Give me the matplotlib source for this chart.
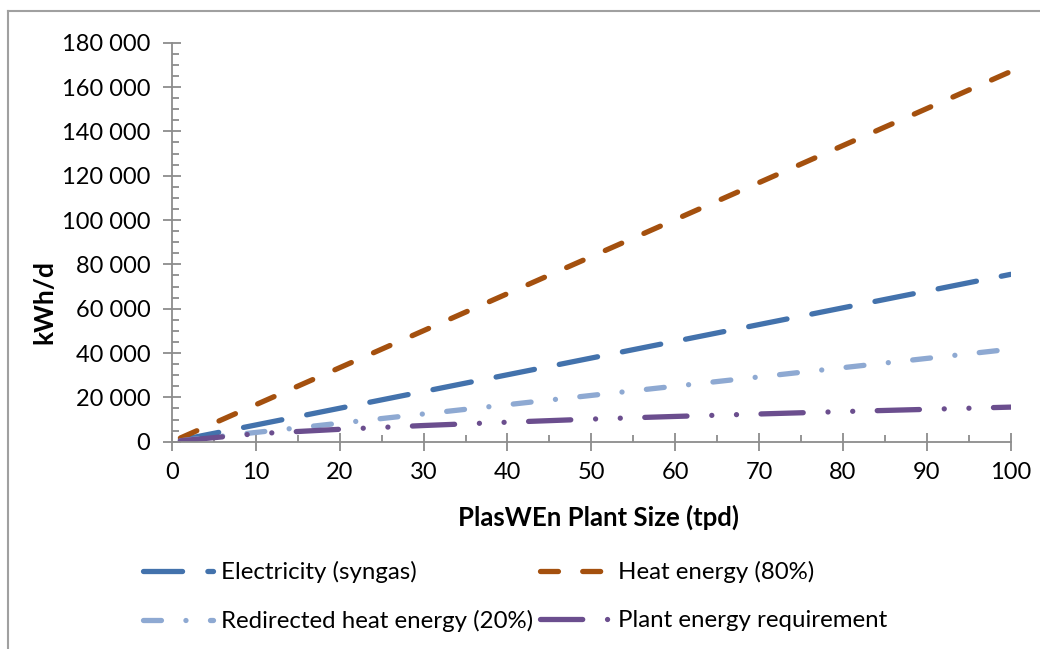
import matplotlib
matplotlib.use("Agg")
import matplotlib.pyplot as plt
from matplotlib.ticker import MultipleLocator, FuncFormatter
from matplotlib.lines import Line2D

plt.rcParams['font.family'] = ['Lato', 'DejaVu Sans']

plant_size = [1, 10, 20, 30, 40, 50, 60, 70, 80, 90, 100]
electricity = [755, 7550, 15100, 22650, 30200, 37750, 45300, 52850, 60400, 67950, 75500]
heat = [1670, 16700, 33400, 50100, 66800, 83500, 100200, 116900, 133600, 150300, 167000]
redirected = [418, 4180, 8350, 12530, 16700, 20880, 25050, 29230, 33400, 37580, 41750]
plant_req = [400, 3600, 5600, 7300, 8800, 10200, 11400, 12500, 13600, 14600, 15600]

labels = ["Electricity (syngas)", "Heat energy (80%)",
          "Redirected heat energy (20%)", "Plant energy requirement"]
colors = ["#4372AC", "#A4500E", "#8EA9D2", "#6B4E8E"]
styles = [(0, (7.4, 4.8)),
          (0, (3.4, 4.6)),
          (0, (3.4, 4.64, 0.01, 4.64)),
          (0, (8.0, 4.7, 0.01, 4.67, 0.01, 4.64))]

W, H = 1040, 649
fig = plt.figure(figsize=(W / 100, H / 100), dpi=100)
ax = fig.add_axes([172 / W, 1 - 441.7 / H, (1010.7 - 172) / W, (441.7 - 42.7) / H])

series = [electricity, heat, redirected, plant_req]
handles = []
for vals, lab, c, ls in zip(series, labels, colors, styles):
    ln, = ax.plot(plant_size, vals, color=c, lw=3.8, linestyle=ls,
                  dash_capstyle='round', solid_capstyle='round', label=lab)
    handles.append(ln)

ax.set_xlim(0, 100)
ax.set_ylim(0, 180000)
ax.xaxis.set_major_locator(MultipleLocator(10))
ax.xaxis.set_minor_locator(MultipleLocator(5))
ax.yaxis.set_major_locator(MultipleLocator(20000))
ax.yaxis.set_minor_locator(MultipleLocator(5000))
ax.yaxis.set_major_formatter(FuncFormatter(lambda v, p: f"{int(v):,}".replace(",", " ")))

for s in ['top', 'right']:
    ax.spines[s].set_visible(False)
for s in ['left', 'bottom']:
    ax.spines[s].set_color('#8C8C8C')
    ax.spines[s].set_linewidth(1.3)

ax.tick_params(which='major', direction='inout', length=13, width=1.3, color='#8C8C8C',
               labelsize=17, labelcolor='black')
ax.tick_params(which='minor', direction='in', length=5, width=1.3, color='#8C8C8C')
ax.tick_params(axis='y', which='major', pad=9)
ax.tick_params(axis='x', which='major', pad=8)

fig.text(599 / W, 1 - 517 / H, "PlasWEn Plant Size (tpd)", ha='center', va='center',
         fontsize=18.5, fontweight='bold')
fig.text(44 / W, 1 - 302 / H, "kWh/d", ha='center', va='center', rotation=90,
         fontsize=19, fontweight='bold')

order = [0, 2, 1, 3]
leg = fig.legend([handles[i] for i in order], [labels[i] for i in order],
                 ncol=2, loc='upper left', bbox_to_anchor=(143 / W, 1 - 561 / H),
                 frameon=False, fontsize=17.3, handlelength=2.9, handletextpad=0.34,
                 columnspacing=0.3, labelspacing=1.12, borderaxespad=0, borderpad=0)

fig.add_artist(Line2D([8 / W, 8 / W], [0, 1 - 11 / H], transform=fig.transFigure,
                      color='#A0A0A0', lw=1.5))
fig.add_artist(Line2D([8 / W, 1], [1 - 11 / H, 1 - 11 / H], transform=fig.transFigure,
                      color='#A0A0A0', lw=1.5))

fig.savefig("out.png", dpi=100, facecolor='white')
